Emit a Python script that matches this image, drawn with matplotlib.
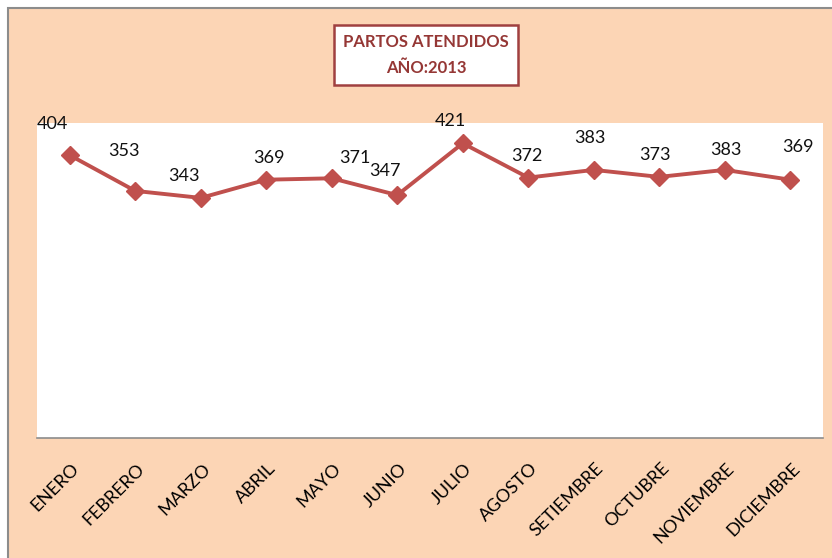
import matplotlib
matplotlib.use('Agg')
from matplotlib import pyplot as plt
from matplotlib.patches import Rectangle
from matplotlib import transforms


meses = ['ENERO', 'FEBRERO', 'MARZO', 'ABRIL', 'MAYO', 'JUNIO', 'JULIO',
         'AGOSTO', 'SETIEMBRE', 'OCTUBRE', 'NOVIEMBRE', 'DICIEMBRE']
partos = [404, 353, 343, 369, 371, 347, 421, 372, 383, 373, 383, 369]
titulo = 'PARTOS ATENDIDOS\nAÑO:2013'

# desplazamiento de las etiquetas (pixeles), como quedaron en el original
desp_x = [-17, -11, -17, 3, 23, -12, -12, -1, -4, -4, 1, 8]
desp_y = [31, 40, 22, 22, 20, 24, 22, 22, 32, 22, 20, 33]

durazno = '#FCD5B5'
rojo = '#C0504D'
rojo_osc = '#953735'

plt.rcParams['font.family'] = ['Lato', 'DejaVu Sans']

fig = plt.figure(figsize=(8.32, 5.58), dpi=100)
fig.patch.set_facecolor('white')

# fondo del area del grafico con borde gris arriba e izquierda
fondo = Rectangle((8 / 832, -0.01), 1, 1.01 - 8 / 558, transform=fig.transFigure,
                  facecolor=durazno, edgecolor='#8C8C8C', linewidth=1.5, zorder=0)
fig.patches.append(fondo)

ax = fig.add_axes([37 / 832, 120 / 558, 786 / 832, 315 / 558])
ax.set_zorder(2)
ax.set_facecolor('white')

x = list(range(len(meses)))
ax.plot(x, partos, color=rojo, linewidth=2.8, marker='D', markersize=9,
        markerfacecolor=rojo, markeredgecolor=rojo, zorder=3, clip_on=False)

for i in range(len(partos)):
    ax.annotate(str(partos[i]), (x[i], partos[i]), xytext=(desp_x[i] * 0.72, desp_y[i] * 0.72),
                textcoords='offset points', ha='center', va='center', fontsize=13, color='#111111',
                annotation_clip=False)

ax.set_xlim(-0.5, len(meses) - 0.5)
ax.set_ylim(0, 450)
ax.set_yticks([])
ax.set_xticks(x)
ax.set_xticklabels(meses, rotation=45, ha='right', va='top', rotation_mode='anchor', fontsize=13)
ax.tick_params(axis='x', length=0, pad=16)
offset = transforms.ScaledTranslation(1 / 72, 0, fig.dpi_scale_trans)
for lab in ax.get_xticklabels():
    lab.set_transform(lab.get_transform() + offset)

for lado in ['top', 'left', 'right']:
    ax.spines[lado].set_visible(False)
ax.spines['bottom'].set_color('#8C8C8C')
ax.spines['bottom'].set_linewidth(1.2)

fig.text(426 / 832, 1 - 55 / 558, titulo, ha='center', va='center', fontsize=12,
         fontweight='bold', color=rojo_osc, linespacing=1.7,
         bbox=dict(boxstyle='square,pad=0.55', facecolor='white', edgecolor='#A04040', linewidth=1.8),
         zorder=5)

plt.savefig('out.png', dpi=100, facecolor=fig.get_facecolor())
